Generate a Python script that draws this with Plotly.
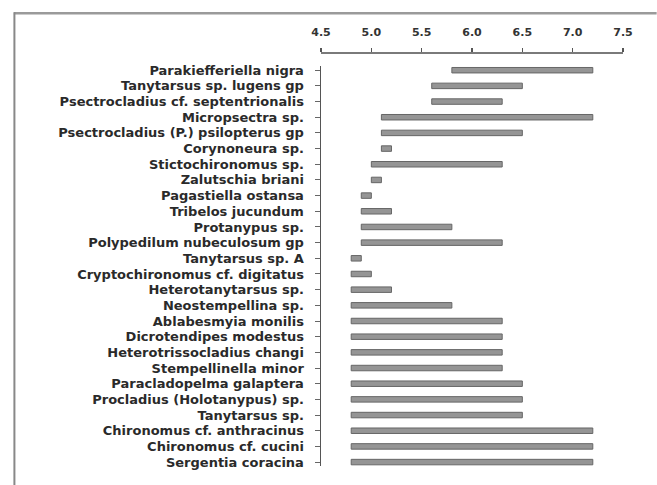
import plotly.graph_objects as go

species = [
    "Parakiefferiella nigra",
    "Tanytarsus sp. lugens gp",
    "Psectrocladius cf. septentrionalis",
    "Micropsectra sp.",
    "Psectrocladius (P.) psilopterus gp",
    "Corynoneura sp.",
    "Stictochironomus sp.",
    "Zalutschia briani",
    "Pagastiella ostansa",
    "Tribelos jucundum",
    "Protanypus sp.",
    "Polypedilum nubeculosum gp",
    "Tanytarsus sp. A",
    "Cryptochironomus cf. digitatus",
    "Heterotanytarsus sp.",
    "Neostempellina sp.",
    "Ablabesmyia monilis",
    "Dicrotendipes modestus",
    "Heterotrissocladius changi",
    "Stempellinella minor",
    "Paracladopelma galaptera",
    "Procladius (Holotanypus) sp.",
    "Tanytarsus sp.",
    "Chironomus cf. anthracinus",
    "Chironomus cf. cucini",
    "Sergentia coracina",
]

range_min = [5.8, 5.6, 5.6, 5.1, 5.1, 5.1, 5.0, 5.0, 4.9, 4.9, 4.9, 4.9, 4.8,
             4.8, 4.8, 4.8, 4.8, 4.8, 4.8, 4.8, 4.8, 4.8, 4.8, 4.8, 4.8, 4.8]
range_max = [7.2, 6.5, 6.3, 7.2, 6.5, 5.2, 6.3, 5.1, 5.0, 5.2, 5.8, 6.3, 4.9,
             5.0, 5.2, 5.8, 6.3, 6.3, 6.3, 6.3, 6.5, 6.5, 6.5, 7.2, 7.2, 7.2]

x_ticks = [4.5, 5.0, 5.5, 6.0, 6.5, 7.0, 7.5]
x_ticklabels = ["4.5", "5.0", "5.5", "6.0", "6.5", "7.0", "7.5"]

W, H = 657, 485
ML, MR, MT, MB = 320.7, 33.7, 52.7, 19.0
PW = W - ML - MR
PH = H - MT - MB

def px_x(p):
    return (p - ML) / PW

def px_y(p):
    return (H - MB - p) / PH

fig = go.Figure()
fig.add_trace(go.Bar(
    y=species,
    x=[b - a for a, b in zip(range_min, range_max)],
    base=range_min,
    orientation="h",
    width=0.35,
    marker=dict(color="#959595", line=dict(color="#666666", width=1)),
    hoverinfo="skip",
))

fig.update_layout(
    width=W, height=H,
    margin=dict(l=ML, r=MR, t=MT, b=MB, pad=0),
    paper_bgcolor="white", plot_bgcolor="white",
    showlegend=False,
    font=dict(family="DejaVu Sans", color="#2a2a2a"),
    xaxis=dict(
        side="top", anchor="free", position=1,
        range=[4.5, 7.5],
        tickmode="array", tickvals=x_ticks, ticktext=x_ticklabels,
        showgrid=False, zeroline=False,
        showline=True, linecolor="#7a7a7a", linewidth=2,
        ticks="outside", ticklen=4, tickwidth=1.5, tickcolor="#555",
        tickfont=dict(family="DejaVu Sans", size=11, weight="bold", color="#333"),
        ticklabelstandoff=8,
    ),
    yaxis=dict(
        domain=[0, (H - MB - 66) / PH],
        categoryorder="array", categoryarray=species,
        tickmode="array", tickvals=species, ticktext=species,
        range=[25.25, -0.25],
        showgrid=False, zeroline=False,
        showline=True, linecolor="#555", linewidth=1.5,
        ticks="outside", ticklen=5, tickwidth=1, tickcolor="#666",
        tickfont=dict(family="DejaVu Sans", size=13, weight="bold", color="#2a2a2a"),
        ticklabelstandoff=8,
    ),
    shapes=[
        dict(type="line", xref="paper", yref="paper",
             x0=px_x(13), x1=px_x(657), y0=px_y(13), y1=px_y(13),
             line=dict(color="#9a9a9a", width=2.5)),
        dict(type="line", xref="paper", yref="paper",
             x0=px_x(13.5), x1=px_x(13.5), y0=px_y(12), y1=px_y(485),
             line=dict(color="#888888", width=2)),
    ],
)

fig.write_html("out.html",
               config={"displayModeBar": False, "staticPlot": True},
               post_script="document.body.style.margin='0';document.body.style.padding='0';")
